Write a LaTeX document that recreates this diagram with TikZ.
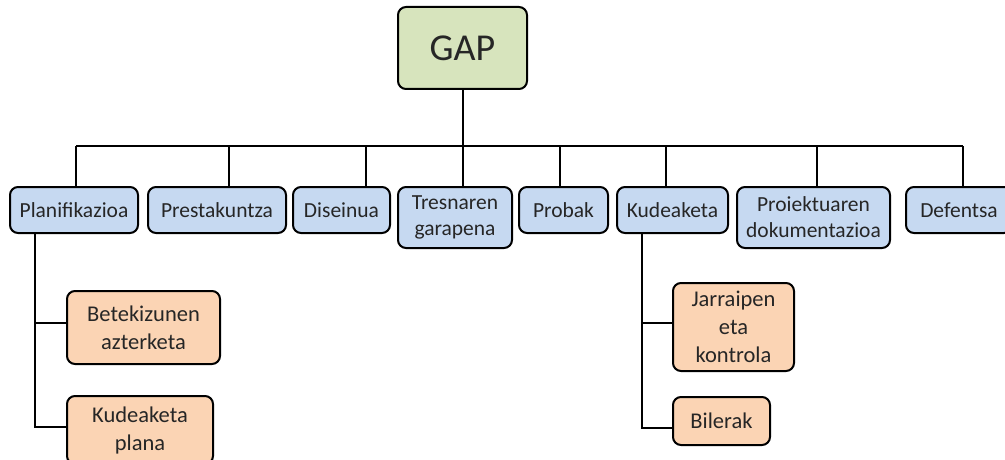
\documentclass[tikz,border=0pt]{standalone}
\usepackage{fontspec}
\setmainfont{Carlito}
\definecolor{rootfill}{HTML}{D7E4BD}
\definecolor{phasefill}{HTML}{C6D9F1}
\definecolor{taskfill}{HTML}{FBD4B4}
\begin{document}
\begin{tikzpicture}[x=1pt,y=-1pt,
  box/.style={draw=black, line width=2pt, rounded corners=8pt, align=center, inner sep=2pt, text=black!85},
  rootbox/.style={box, fill=rootfill, font=\fontsize{38}{40}\selectfont},
  phasebox/.style={box, fill=phasefill, font=\fontsize{21.5}{26}\selectfont},
  taskbox/.style={box, fill=taskfill, font=\fontsize{22.5}{28}\selectfont},
  link/.style={draw=black, line width=2pt}]
\useasboundingbox (0,0) rectangle (1005,460);
\begin{scope}
\clip (0,0) rectangle (1005,460);
% root
\node[rootbox, minimum width=129pt, minimum height=82pt] (gap) at (462.5,48) {GAP};
% phases
\node[phasebox, minimum width=128pt, minimum height=46pt] (plan) at (74,210) {Planifikazioa};
\node[phasebox, minimum width=138pt, minimum height=46pt] (prest) at (217,210) {Prestakuntza};
\node[phasebox, minimum width=97pt, minimum height=46pt] (dis) at (341.5,210) {Diseinua};
\node[phasebox, minimum width=114pt, minimum height=61pt] (tres) at (455,217.5) {Tresnaren\\garapena};
\node[phasebox, minimum width=89pt, minimum height=46pt] (prob) at (563.5,210) {Probak};
\node[phasebox, minimum width=111pt, minimum height=46pt] (kud) at (672.5,210) {Kudeaketa};
\node[phasebox, minimum width=153pt, minimum height=61pt] (proi) at (813.5,217.5) {Proiektuaren\\dokumentazioa};
\node[phasebox, minimum width=106pt, minimum height=46pt] (def) at (959,210) {Defentsa};
% tasks
\node[taskbox, minimum width=153pt, minimum height=73pt] (bet) at (143.5,327.5) {Betekizunen\\azterketa};
\node[taskbox, minimum width=146pt, minimum height=68pt] (kplan) at (140,430) {Kudeaketa\\plana};
\node[taskbox, minimum width=121pt, minimum height=88pt] (jarr) at (733.5,327) {Jarraipen\\eta\\kontrola};
\node[taskbox, minimum width=97pt, minimum height=48pt] (bil) at (721.5,421) {Bilerak};
% bus from the root to the phases
\coordinate (busL) at (76,146);
\coordinate (busR) at (963,146);
\draw[link] (gap.south) -- (gap.south |- busL);
\draw[link] (busL) -- (busR);
\foreach \x/\n in {76/plan, 229/prest, 366/dis, 463/tres, 560/prob, 666/kud, 817/proi, 963/def}
  \draw[link] (\x,146) -- (\x,146 |- \n.north);
% planning sub-tasks
\coordinate (pl) at (35,233);
\draw[link] (pl |- plan.south) -- (35,427) -- (kplan.west |- 0,427);
\draw[link] (35,323) -- (bet.west |- 0,323);
% management sub-tasks
\coordinate (kl) at (642,233);
\draw[link] (kl |- kud.south) -- (642,428) -- (bil.west |- 0,428);
\draw[link] (642,323) -- (jarr.west |- 0,323);
\end{scope}
\end{tikzpicture}
\end{document}
